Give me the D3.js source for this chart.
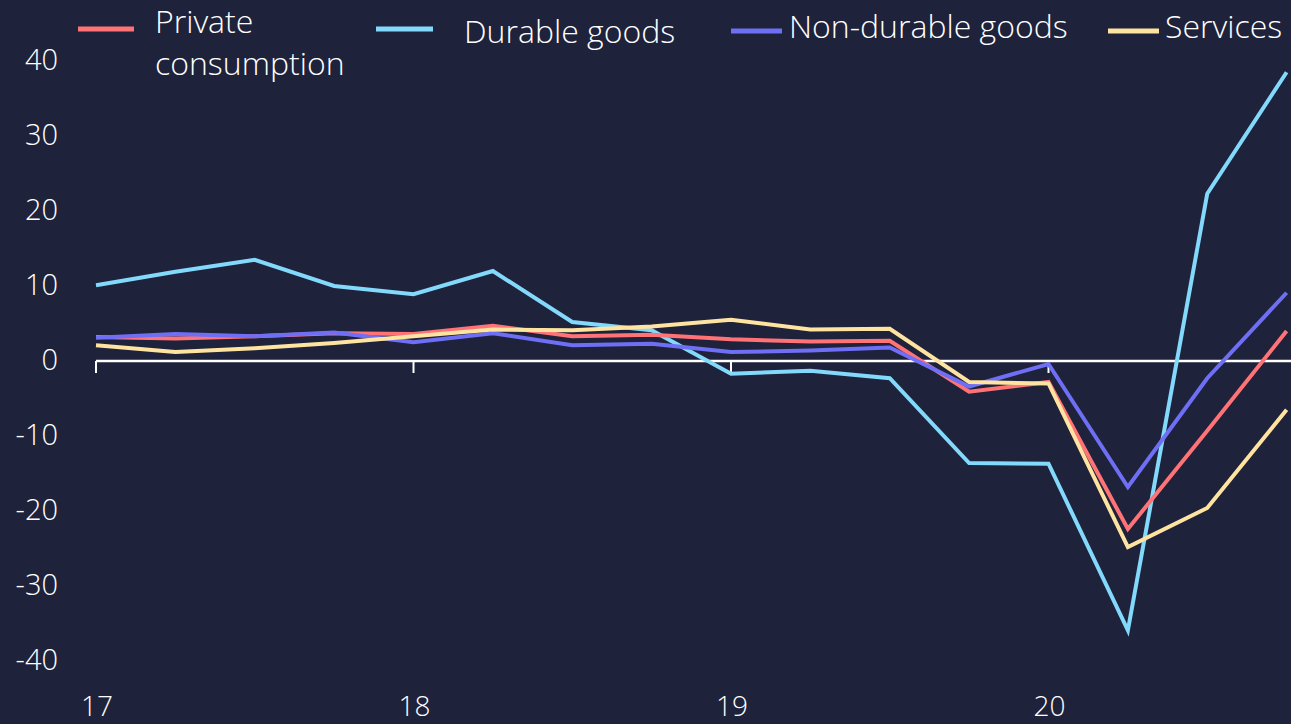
<!DOCTYPE html>
<html>
<head>
<meta charset="utf-8">
<script src="https://cdn.jsdelivr.net/npm/d3@7"></script>
<style>
html,body{margin:0;padding:0;background:#1e223a;}
svg{display:block;}
text{font-family:"Open Sans",sans-serif;font-weight:300;fill:#ffffff;}
</style>
</head>
<body>
<svg id="chart" width="1291" height="724"></svg>
<script>
// Quarterly periods 2017Q1 .. 2020Q4
const quarters = d3.range(16).map(i => 2017 + i / 4);
const privateConsumption = [3.2, 3.0, 3.3, 3.7, 3.6, 4.7, 3.3, 3.5, 2.9, 2.6, 2.7, -4.1, -2.8, -22.4, -9.3, 4.0];
const durableGoods = [10.1, 11.9, 13.5, 10.0, 8.9, 12.0, 5.2, 4.1, -1.7, -1.3, -2.3, -13.6, -13.7, -35.9, 22.3, 38.5];
const nonDurableGoods = [3.1, 3.6, 3.3, 3.8, 2.5, 3.7, 2.1, 2.3, 1.2, 1.4, 1.8, -3.4, -0.4, -16.8, -2.3, 9.1];
const services = [2.1, 1.2, 1.7, 2.4, 3.3, 4.2, 4.1, 4.6, 5.5, 4.2, 4.3, -2.8, -3.0, -24.8, -19.6, -6.5];
const seriesNames = ["Private consumption", "Durable goods", "Non-durable goods", "Services"];
const yTicks = [40, 30, 20, 10, 0, -10, -20, -30, -40];
const xTicks = [2017, 2018, 2019, 2020];
const xTickLabels = ["17", "18", "19", "20"];

const colors = ["#ff7276", "#82d9fb", "#6f6ff6", "#ffe4a1"];
const seriesData = [privateConsumption, durableGoods, nonDurableGoods, services];

const svg = d3.select("#chart");
const x = d3.scaleLinear().domain([2017, 2021]).range([96, 1366]);
const y = d3.scaleLinear().domain([-40, 40]).range([661, 61]);

// Y labels
svg.append("g").selectAll("text").data(yTicks).join("text")
  .attr("x", 58).attr("y", d => y(d) - 3)
  .attr("text-anchor", "end").attr("dominant-baseline", "central")
  .style("font-size", "29px").text(d => d);

// X labels
svg.append("g").selectAll("text").data(xTicks).join("text")
  .attr("x", (d, i) => x(d) + 1).attr("y", 716)
  .attr("text-anchor", "middle")
  .style("font-size", "28px").text((d, i) => xTickLabels[i]);

// Zero axis line
svg.append("line").attr("x1", x(2017)).attr("x2", 1291).attr("y1", y(0)).attr("y2", y(0))
  .attr("stroke", "#ffffff").attr("stroke-width", 2.5);
svg.append("g").selectAll("line").data(xTicks).join("line")
  .attr("x1", d => x(d)).attr("x2", d => x(d)).attr("y1", y(0)).attr("y2", y(0) + 12)
  .attr("stroke", "#ffffff").attr("stroke-width", 2);

// Lines
const line = d3.line().x((d, i) => x(quarters[i])).y(d => y(d));
const drawOrder = [1, 0, 2, 3];
drawOrder.forEach(k => {
  svg.append("path").datum(seriesData[k]).attr("d", line)
    .attr("fill", "none").attr("stroke", colors[k]).attr("stroke-width", 4)
    .attr("stroke-linejoin", "miter");
});

// Legend
const legend = [
  {sx: 78, sw: 56, sy: 29, tx: 155, lines: ["Private", "consumption"], ty: 33},
  {sx: 376, sw: 57, sy: 29, tx: 464, lines: ["Durable goods"], ty: 43},
  {sx: 731, sw: 51, sy: 31, tx: 789, lines: ["Non-durable goods"], ty: 38},
  {sx: 1108, sw: 51, sy: 31, tx: 1165, lines: ["Services"], ty: 38}
];
legend.forEach((l, k) => {
  svg.append("line").attr("x1", l.sx).attr("x2", l.sx + l.sw).attr("y1", l.sy).attr("y2", l.sy)
    .attr("stroke", colors[k]).attr("stroke-width", 5);
  l.lines.forEach((t, j) => {
    svg.append("text").attr("x", l.tx).attr("y", l.ty + j * 42)
      .style("font-size", "32px").text(t);
  });
});
</script>
</body>
</html>
